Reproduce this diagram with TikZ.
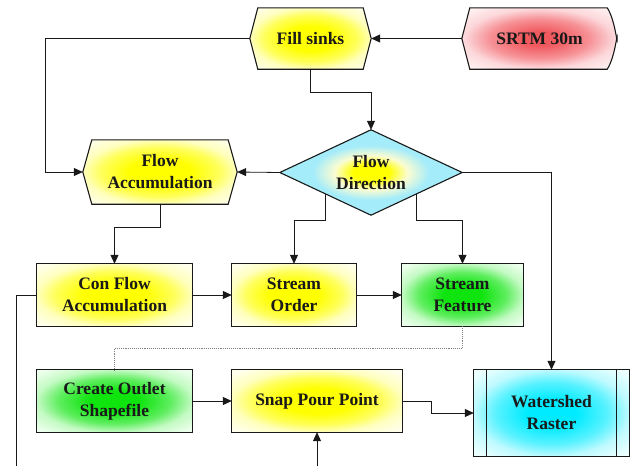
\documentclass[tikz,border=0pt]{standalone}
\usepackage{fontspec}
\setmainfont{Liberation Serif}
\usetikzlibrary{arrows.meta,calc}
\pgfdeclarelayer{background}
\pgfsetlayers{background,main}
\definecolor{ylin}{RGB}{255,255,0}
\definecolor{ylmid}{RGB}{255,255,90}
\definecolor{yledge}{RGB}{255,255,190}
\definecolor{ylout}{RGB}{255,255,236}
\definecolor{grin}{RGB}{15,228,15}
\definecolor{grmid}{RGB}{95,238,95}
\definecolor{gredge}{RGB}{195,250,195}
\definecolor{grout}{RGB}{236,255,236}
\definecolor{cyin}{RGB}{0,235,255}
\definecolor{cymid}{RGB}{90,242,255}
\definecolor{cyedge}{RGB}{190,250,255}
\definecolor{cyout}{RGB}{236,255,255}
\definecolor{rdin}{RGB}{240,90,95}
\definecolor{rdmid}{RGB}{246,145,150}
\definecolor{rdedge}{RGB}{252,215,218}
\definecolor{rdout}{RGB}{255,240,240}
\definecolor{dmmid}{RGB}{250,252,210}
\definecolor{dmout}{RGB}{165,236,250}
\definecolor{ink}{RGB}{25,25,25}
\pgfdeclareradialshading{yshade}{\pgfpoint{0bp}{0bp}}{color(0bp)=(ylin); color(10bp)=(ylin); color(19bp)=(ylmid); color(25bp)=(yledge); color(33bp)=(ylout); color(50bp)=(ylout)}
\pgfdeclareradialshading{gshade}{\pgfpoint{0bp}{0bp}}{color(0bp)=(grin); color(8bp)=(grin); color(18bp)=(grmid); color(25bp)=(gredge); color(33bp)=(grout); color(50bp)=(grout)}
\pgfdeclareradialshading{cshade}{\pgfpoint{0bp}{0bp}}{color(0bp)=(cyin); color(8bp)=(cyin); color(18bp)=(cymid); color(25bp)=(cyedge); color(33bp)=(cyout); color(50bp)=(cyout)}
\pgfdeclareradialshading{rshade}{\pgfpoint{0bp}{0bp}}{color(0bp)=(rdin); color(6bp)=(rdin); color(16bp)=(rdmid); color(24bp)=(rdedge); color(32bp)=(rdout); color(50bp)=(rdout)}
\pgfdeclareradialshading{dshade}{\pgfpoint{0bp}{0bp}}{color(0bp)=(ylin); color(5bp)=(ylin); color(10bp)=(dmmid); color(16bp)=(dmout); color(50bp)=(dmout)}
\tikzset{
  box/.style={rectangle, inner sep=0pt, align=center, text=ink,
    font=\fontsize{17.5}{22}\selectfont\bfseries},
  outline/.style={draw=ink, line width=1.1pt},
  yfill/.style={outline, shading=yshade},
  gfill/.style={outline, shading=gshade},
  cfill/.style={outline, shading=cshade},
  rfill/.style={outline, shading=rshade},
  dfill/.style={outline, shading=dshade},
  arr/.style={draw=ink, line width=0.8pt, -{Triangle[length=9pt,width=8pt]}},
  conn/.style={draw=ink, line width=0.8pt},
  dotconn/.style={draw=gray, line width=0.9pt, densely dotted}
}
\begin{document}
\begin{tikzpicture}[x=1pt,y=-1pt]
\useasboundingbox (0,0) rectangle (630,466);
% nodes
\node[box, minimum width=121pt, minimum height=61pt] (fs) at (310.5,38.5) {Fill sinks};
\node[box, minimum width=155pt, minimum height=61pt] (srtm) at (539.5,38.5) {SRTM 30m};
\node[box, minimum width=154pt, minimum height=64pt] (fa) at (160,172) {Flow\\Accumulation};
\node[box, minimum width=182pt, minimum height=85pt] (fd) at (371,172.5) {Flow\\Direction};
\node[box, minimum width=155pt, minimum height=62pt] (cfa) at (114.5,295) {Con Flow\\Accumulation};
\node[box, minimum width=124pt, minimum height=62pt] (so) at (294,295) {Stream\\Order};
\node[box, minimum width=121pt, minimum height=62pt] (sf) at (462.5,295) {Stream\\Feature};
\node[box, minimum width=155pt, minimum height=62pt] (co) at (114.5,401) {Create Outlet\\Shapefile};
\node[box, minimum width=170pt, minimum height=62pt] (sp) at (317,401) {Snap Pour Point};
\node[box, minimum width=155pt, minimum height=86pt] (ws) at (551.5,413) {Watershed\\Raster};
\coordinate (bl) at (16,470);
\coordinate (bp) at (317,470);
% shapes
\begin{pgfonlayer}{background}
\path[yfill] (fs.west) -- ([xshift=8pt]fs.north west) -- ([xshift=-8pt]fs.north east) -- (fs.east)
  -- ([xshift=-8pt]fs.south east) -- ([xshift=8pt]fs.south west) -- cycle;
\path[rfill] (srtm.west) -- ([xshift=8pt]srtm.north west) -- ([xshift=-10pt]srtm.north east)
  .. controls ([xshift=-2pt,yshift=-12pt]srtm.north east) and ([yshift=-8pt]srtm.east) .. (srtm.east)
  .. controls ([yshift=8pt]srtm.east) and ([xshift=-2pt,yshift=12pt]srtm.south east) .. ([xshift=-10pt]srtm.south east)
  -- ([xshift=8pt]srtm.south west) -- cycle;
\path[yfill] (fa.west) -- ([xshift=9pt]fa.north west) -- ([xshift=-9pt]fa.north east) -- (fa.east)
  -- ([xshift=-9pt]fa.south east) -- ([xshift=9pt]fa.south west) -- cycle;
\path[dfill] (fd.west) -- (fd.north) -- (fd.east) -- (fd.south) -- cycle;
\path[yfill] (cfa.north west) rectangle (cfa.south east);
\path[yfill] (so.north west) rectangle (so.south east);
\path[gfill] (sf.north west) rectangle (sf.south east);
\path[gfill] (co.north west) rectangle (co.south east);
\path[yfill] (sp.north west) rectangle (sp.south east);
\path[cfill] (ws.north west) rectangle (ws.south east);
\draw[outline] ([xshift=13pt]ws.north west) -- ([xshift=13pt]ws.south west);
\draw[outline] ([xshift=-13pt]ws.north east) -- ([xshift=-13pt]ws.south east);
\end{pgfonlayer}
% connectors
\draw[arr] (srtm.west) -- (fs.east);
\draw[arr] (fs.west) -- ++(-204,0) |- (fa.west);
\draw[arr] (fs.south) -- ++(0,23) -| (fd.north);
\draw[arr] (fd.west) -- (fa.east);
\draw[arr] (fd.east) -| (ws.north);
\draw[arr] (fa.south) -- ++(0,23) -| (cfa.north);
\draw[arr] ($(fd.west)!0.5!(fd.south)$) -- ++(0,27) -| (so.north);
\draw[arr] ($(fd.east)!0.5!(fd.south)$) -- ++(0,27) -| (sf.north);
\draw[arr] (cfa.east) -- (so.west);
\draw[arr] (so.east) -- (sf.west);
\draw[dotconn] (sf.south) -- ++(0,22) -| (co.north);
\draw[arr] (co.east) -- (sp.west);
\draw[arr] (sp.east) -- ++(29,0) |- (ws.west);
\draw[conn] (cfa.west) -| (bl);
\draw[arr] (bp) -- (sp.south);
\end{tikzpicture}
\end{document}
